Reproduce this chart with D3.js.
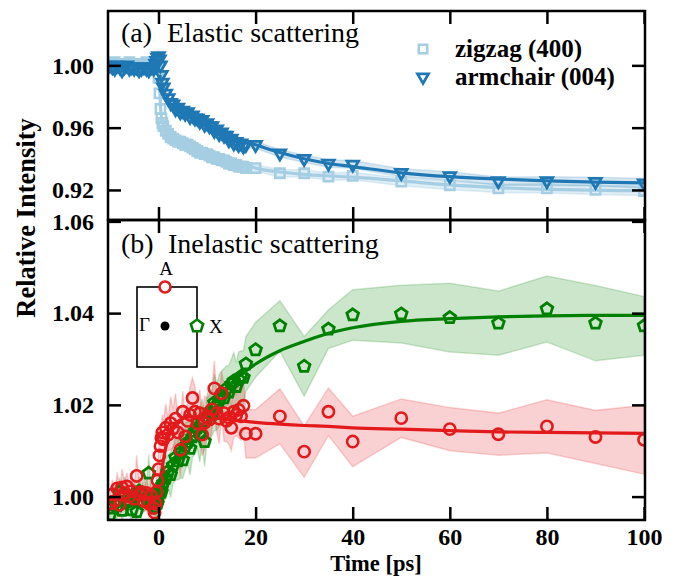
<!DOCTYPE html>
<html>
<head>
<meta charset="utf-8">
<script src="https://cdn.jsdelivr.net/npm/d3@7"></script>
<style>
  body { margin: 0; background: #fff; }
  svg { display: block; }
  text { font-family: "Liberation Serif", "Times New Roman", serif; fill: #000; }
</style>
</head>
<body>
<svg id="chart" width="680" height="576"></svg>
<script>
// ---------- time grids (ps) ----------
const timeDense = [
  -10, -9.5, -9, -8.5, -8, -7.5, -7, -6.5, -6, -5.5, -5, -4.5, -4, -3.5, -3, -2.5, -2, -1.5, -1,
  -0.8, -0.6, -0.4, -0.2, 0, 0.2, 0.4, 0.6, 0.8,
  1, 1.5, 2, 2.5, 3, 3.5, 4, 4.5, 5, 5.5, 6, 6.5, 7, 7.5, 8, 8.5, 9, 9.5, 10, 10.5,
  11, 11.5, 12, 12.5, 13, 13.5, 14, 14.5, 15, 15.5, 16, 16.5, 17, 17.5, 18
];
const timeSparse = [20, 25, 30, 35, 40, 50, 60, 70, 80, 90, 100];
const timeFit = [-10, 0, 0.5, 1, 1.5, 2, 3, 4, 5, 6, 8, 10, 12, 15, 18, 20, 25, 30, 35, 40, 50, 60, 70, 80, 90, 100];

// ---------- (a) elastic scattering ----------
const zigzagDense = [
  1.001, 1.000, 1.002, 1.000, 1.001, 0.999, 1.001, 1.000, 1.002, 1.000, 1.001, 1.000, 0.999, 1.001, 1.000, 1.002, 1.000, 1.001, 1.000,
  1.000, 1.001, 1.000, 0.998, 0.992, 0.982, 0.972, 0.966, 0.963,
  0.961, 0.958, 0.956, 0.954, 0.953, 0.952, 0.951, 0.951, 0.950, 0.949, 0.949, 0.948, 0.947, 0.946, 0.945, 0.944, 0.944, 0.943,
  0.943, 0.942, 0.941, 0.941, 0.940, 0.940, 0.939, 0.939, 0.938, 0.937, 0.937, 0.936, 0.936, 0.935, 0.935, 0.935, 0.934
];
const zigzagSparse = [0.934, 0.9307, 0.9307, 0.9285, 0.929, 0.9253, 0.923, 0.921, 0.921, 0.920, 0.9193];
const zigzagErrDense = [
  0.0012, 0.0014, 0.0011, 0.0013, 0.0012, 0.0015, 0.0012, 0.0013, 0.0011, 0.0014, 0.0012, 0.0013, 0.0012, 0.0014, 0.0011, 0.0013, 0.0012, 0.0014, 0.0013,
  0.0015, 0.0018, 0.0022, 0.0030, 0.0040, 0.0040, 0.0035, 0.0030, 0.0025,
  0.0022, 0.0020, 0.0021, 0.0019, 0.0020, 0.0022, 0.0021, 0.0020, 0.0019, 0.0021, 0.0020, 0.0022, 0.0021, 0.0020, 0.0019, 0.0021, 0.0022, 0.0020,
  0.0021, 0.0020, 0.0019, 0.0021, 0.0022, 0.0020, 0.0021, 0.0019, 0.0020, 0.0022, 0.0021, 0.0020, 0.0019, 0.0021, 0.0020, 0.0022, 0.0021
];
const zigzagErrSparse = [0.0022, 0.0024, 0.0023, 0.0025, 0.0024, 0.0026, 0.0028, 0.0027, 0.0029, 0.0030, 0.0030];

const armchairDense = [
  1.000, 0.999, 0.998, 1.000, 0.999, 0.997, 0.999, 1.000, 0.998, 0.999, 0.998, 0.999, 0.997, 0.998, 0.999, 0.998, 0.997, 0.999, 0.998,
  0.999, 1.001, 1.003, 1.005, 1.006, 1.004, 1.000, 0.994, 0.989,
  0.986, 0.982, 0.979, 0.976, 0.975, 0.972, 0.973, 0.970, 0.971, 0.969, 0.970, 0.967, 0.968, 0.966, 0.966, 0.964, 0.965, 0.962,
  0.963, 0.961, 0.961, 0.958, 0.959, 0.956, 0.957, 0.955, 0.955, 0.952, 0.953, 0.950, 0.951, 0.949, 0.950, 0.948, 0.949
];
const armchairSparse = [0.949, 0.9435, 0.940, 0.937, 0.9364, 0.931, 0.929, 0.9257, 0.9257, 0.9253, 0.9243];
const armchairErrDense = [
  0.0013, 0.0012, 0.0014, 0.0012, 0.0013, 0.0015, 0.0012, 0.0013, 0.0012, 0.0014, 0.0012, 0.0013, 0.0014, 0.0012, 0.0013, 0.0012, 0.0014, 0.0013, 0.0012,
  0.0015, 0.0018, 0.0020, 0.0025, 0.0030, 0.0032, 0.0030, 0.0028, 0.0026,
  0.0024, 0.0022, 0.0021, 0.0022, 0.0020, 0.0021, 0.0022, 0.0020, 0.0021, 0.0022, 0.0020, 0.0021, 0.0022, 0.0020, 0.0021, 0.0022, 0.0020, 0.0021,
  0.0022, 0.0020, 0.0021, 0.0022, 0.0020, 0.0021, 0.0022, 0.0020, 0.0021, 0.0022, 0.0020, 0.0021, 0.0022, 0.0020, 0.0021, 0.0022, 0.0021
];
const armchairErrSparse = [0.0022, 0.0023, 0.0024, 0.0024, 0.0025, 0.0026, 0.0027, 0.0026, 0.0028, 0.0028, 0.0030];

const zigzagFit = [1.000, 1.000, 0.970, 0.962, 0.959, 0.957, 0.954, 0.952, 0.950, 0.949, 0.946, 0.944, 0.942, 0.939, 0.936, 0.934, 0.9315, 0.930, 0.929, 0.9282, 0.9258, 0.9232, 0.9215, 0.9204, 0.9198, 0.9195];
const armchairFit = [1.000, 1.000, 0.990, 0.984, 0.980, 0.977, 0.973, 0.971, 0.969, 0.968, 0.965, 0.962, 0.959, 0.955, 0.951, 0.949, 0.944, 0.940, 0.937, 0.935, 0.931, 0.9285, 0.927, 0.9258, 0.925, 0.9246];

// ---------- (b) inelastic scattering ----------
const xPointDense = [
  0.9960, 0.9975, 0.9990, 0.9980, 1.0010, 0.9970, 1.0005, 0.9989, 0.9992, 0.9971, 1.0000, 0.9967, 1.0012, 0.9990, 1.0005, 0.9995, 1.0051, 0.9985, 1.0000,
  0.9985, 0.9978, 0.9992, 0.9985, 1.0000, 1.0008, 1.0015, 1.0010, 1.0025,
  1.0030, 1.0040, 1.0055, 1.0048, 1.0068, 1.0085, 1.0078, 1.0095, 1.0080, 1.0110, 1.0118, 1.0105, 1.0130, 1.0142, 1.0150, 1.0135, 1.0165, 1.0120, 1.0172, 1.0185,
  1.0178, 1.0205, 1.0195, 1.0210, 1.0222, 1.0215, 1.0235, 1.0228, 1.0245, 1.0252, 1.0240, 1.0255, 1.0262, 1.0260, 1.0289
];
const xPointSparse = [1.0320, 1.0372, 1.0284, 1.0365, 1.0396, 1.0398, 1.0390, 1.0378, 1.0409, 1.0378, 1.0372];
const xPointErrDense = [
  0.0030, 0.0024, 0.0036, 0.0026, 0.0032, 0.0025, 0.0038, 0.0028, 0.0030, 0.0024, 0.0034, 0.0026, 0.0032, 0.0028, 0.0036, 0.0025, 0.0040, 0.0027, 0.0030,
  0.0032, 0.0036, 0.0030, 0.0038, 0.0034, 0.0036, 0.0040, 0.0035, 0.0038,
  0.0038, 0.0045, 0.0036, 0.0050, 0.0040, 0.0048, 0.0042, 0.0055, 0.0040, 0.0052, 0.0045, 0.0058, 0.0044, 0.0050, 0.0046, 0.0060, 0.0048, 0.0055, 0.0050, 0.0058,
  0.0046, 0.0062, 0.0050, 0.0056, 0.0052, 0.0064, 0.0050, 0.0058, 0.0055, 0.0062, 0.0052, 0.0060, 0.0056, 0.0058, 0.0060
];
const xPointErrSparse = [0.0060, 0.0055, 0.0065, 0.0042, 0.0055, 0.0063, 0.0075, 0.0070, 0.0072, 0.0082, 0.0064];

const aPointDense = [
  0.9985, 1.0005, 0.9990, 1.0018, 0.9982, 1.0020, 1.0008, 1.0022, 1.0000, 1.0012, 0.9995, 1.0045, 1.0005, 1.0010, 0.9990, 1.0008, 0.9985, 1.0002, 0.9975,
  0.9965, 0.9985, 1.0010, 1.0035, 1.0060, 1.0090, 1.0110, 1.0128, 1.0140,
  1.0125, 1.0150, 1.0135, 1.0160, 1.0148, 1.0170, 1.0140, 1.0102, 1.0185, 1.0131, 1.0165, 1.0178, 1.0215, 1.0185, 1.0160, 1.0182, 1.0135, 1.0161, 1.0175, 1.0168,
  1.0190, 1.0236, 1.0182, 1.0170, 1.0225, 1.0182, 1.0165, 1.0172, 1.0150, 1.0185, 1.0178, 1.0189, 1.0175, 1.0198, 1.0137
];
const aPointSparse = [1.0137, 1.0175, 1.0098, 1.0185, 1.0120, 1.0171, 1.0147, 1.0136, 1.0153, 1.0130, 1.0124];
const aPointErrDense = [
  0.0025, 0.0032, 0.0022, 0.0035, 0.0028, 0.0040, 0.0024, 0.0030, 0.0026, 0.0034, 0.0022, 0.0045, 0.0027, 0.0031, 0.0024, 0.0036, 0.0028, 0.0033, 0.0030,
  0.0030, 0.0035, 0.0040, 0.0038, 0.0042, 0.0040, 0.0036, 0.0034, 0.0038,
  0.0040, 0.0052, 0.0035, 0.0058, 0.0042, 0.0055, 0.0038, 0.0060, 0.0045, 0.0050, 0.0040, 0.0062, 0.0044, 0.0056, 0.0038, 0.0052, 0.0046, 0.0058, 0.0040, 0.0054,
  0.0044, 0.0060, 0.0042, 0.0055, 0.0048, 0.0062, 0.0045, 0.0058, 0.0050, 0.0056, 0.0046, 0.0060, 0.0052, 0.0055, 0.0053
];
const aPointErrSparse = [0.0053, 0.0060, 0.0056, 0.0052, 0.0055, 0.0042, 0.0047, 0.0046, 0.0058, 0.0058, 0.0075];

const xPointFit = [1.000, 1.000, 1.0013, 1.0025, 1.0037, 1.0049, 1.0071, 1.0091, 1.0111, 1.0129, 1.0162, 1.0190, 1.0216, 1.0248, 1.0274, 1.0289, 1.0318, 1.0338, 1.0356, 1.0368, 1.0382, 1.0388, 1.0392, 1.0394, 1.0395, 1.0395];
const aPointFit = [1.000, 1.000, 1.0045, 1.0080, 1.0107, 1.0127, 1.0152, 1.0164, 1.0170, 1.0173, 1.0174, 1.0173, 1.0171, 1.0167, 1.0164, 1.0162, 1.0158, 1.0155, 1.0153, 1.0150, 1.0147, 1.0144, 1.0141, 1.0140, 1.0139, 1.0138];

// ---------- ticks and labels ----------
const xTicks = [0, 20, 40, 60, 80, 100];
const yTicksA = [0.92, 0.96, 1.00];
const yTicksB = [1.00, 1.02, 1.04, 1.06];
const legendLabels = ["zigzag (400)", "armchair (004)"];

// ---------- colours ----------
const cZig = "#a6cee3", cArm = "#1f78b4", cGreen = "#008000", cRed = "#e31a1c";

// ---------- layout ----------
const svg = d3.select("#chart");
const L = 108, R = 645, TOP = 11, MID = 220, BOT = 520;

const x = d3.scaleLinear().domain([-10.4, 100.2]).range([L, R]);
const yA = d3.scaleLinear().domain([0.9007, 1.0349]).range([MID, TOP]);
const yB = d3.scaleLinear().domain([0.9949, 1.0603]).range([BOT, MID]);

const defs = svg.append("defs");
defs.append("clipPath").attr("id", "clipA").append("rect")
  .attr("x", L).attr("y", TOP).attr("width", R - L).attr("height", MID - TOP);
defs.append("clipPath").attr("id", "clipB").append("rect")
  .attr("x", L).attr("y", MID).attr("width", R - L).attr("height", BOT - MID);

function rows(vDense, vSparse, eDense, eSparse) {
  const t = timeDense.concat(timeSparse);
  const v = vDense.concat(vSparse);
  const e = eDense.concat(eSparse);
  return t.map((tt, i) => ({ t: tt, v: v[i], e: e[i] }));
}
function fitRows(vals) { return timeFit.map((t, i) => ({ t, v: vals[i] })); }

// pentagon marker for d3.symbol
const symbolPentagon = {
  draw(ctx, size) {
    const r = Math.sqrt(size / (2.5 * Math.sin(2 * Math.PI / 5)));
    for (let i = 0; i < 5; i++) {
      const a = -Math.PI / 2 + i * 2 * Math.PI / 5;
      const px = r * Math.cos(a), py = r * Math.sin(a);
      if (i === 0) ctx.moveTo(px, py); else ctx.lineTo(px, py);
    }
    ctx.closePath();
  }
};

function band(g, data, y, color, op) {
  g.append("path").datum(data)
    .attr("d", d3.area().x(d => x(d.t)).y0(d => y(d.v - d.e)).y1(d => y(d.v + d.e)))
    .attr("fill", color).attr("fill-opacity", op)
    .attr("stroke", color).attr("stroke-opacity", op * 0.9).attr("stroke-width", 1.5);
}
function fitLine(g, data, y, color) {
  g.append("path").datum(data)
    .attr("d", d3.line().x(d => x(d.t)).y(d => y(d.v)).curve(d3.curveMonotoneX))
    .attr("fill", "none").attr("stroke", color).attr("stroke-width", 3.2);
}
function markers(g, data, y, type, size, color, rot, sw) {
  g.selectAll(null).data(data).enter().append("path")
    .attr("d", d3.symbol().type(type).size(size))
    .attr("transform", d => `translate(${x(d.t)},${y(d.v)})` + (rot ? ` rotate(${rot})` : ""))
    .attr("fill", "none").attr("stroke", color).attr("stroke-width", sw);
}

// ---------- panel (a) ----------
const zig = rows(zigzagDense, zigzagSparse, zigzagErrDense, zigzagErrSparse);
const arm = rows(armchairDense, armchairSparse, armchairErrDense, armchairErrSparse);
const gA = svg.append("g").attr("clip-path", "url(#clipA)");
band(gA, zig, yA, cZig, 0.35);
band(gA, arm, yA, cArm, 0.18);
fitLine(gA, fitRows(zigzagFit), yA, cZig);
fitLine(gA, fitRows(armchairFit), yA, cArm);
markers(gA, zig, yA, d3.symbolSquare, 85, cZig, 0, 2.6);
markers(gA, arm, yA, d3.symbolTriangle, 58, cArm, 180, 2.8);

// ---------- panel (b) ----------
const xs = rows(xPointDense, xPointSparse, xPointErrDense, xPointErrSparse);
const as = rows(aPointDense, aPointSparse, aPointErrDense, aPointErrSparse);
const gB = svg.append("g").attr("clip-path", "url(#clipB)");
band(gB, xs, yB, cGreen, 0.2);
band(gB, as, yB, cRed, 0.2);
fitLine(gB, fitRows(xPointFit), yB, cGreen);
fitLine(gB, fitRows(aPointFit), yB, cRed);
markers(gB, xs, yB, symbolPentagon, 90, cGreen, 0, 2.8);
markers(gB, as, yB, d3.symbolCircle, 100, cRed, 0, 2.6);

// ---------- axes ----------
function styleAxis(g) {
  g.select(".domain").remove();
  g.selectAll(".tick line").attr("stroke", "#000").attr("stroke-width", 2.5);
  g.selectAll(".tick text").attr("font-family", "Liberation Serif, Times New Roman, serif")
    .attr("font-weight", "bold").attr("font-size", 24).attr("fill", "#000");
}
function panelAxes(y, top, bottom, yTicks, labelX) {
  svg.append("g").attr("transform", `translate(0,${bottom})`)
    .call(d3.axisBottom(x).tickValues(xTicks).tickSize(-13).tickPadding(8)
      .tickFormat(labelX ? d3.format("d") : () => ""))
    .call(styleAxis);
  svg.append("g").attr("transform", `translate(0,${top})`)
    .call(d3.axisTop(x).tickValues(xTicks).tickSize(-13).tickFormat(() => ""))
    .call(styleAxis);
  svg.append("g").attr("transform", `translate(${L},0)`)
    .call(d3.axisLeft(y).tickValues(yTicks).tickSize(-13).tickPadding(14).tickFormat(d3.format(".2f")))
    .call(styleAxis);
  svg.append("g").attr("transform", `translate(${R},0)`)
    .call(d3.axisRight(y).tickValues(yTicks).tickSize(-13).tickFormat(() => ""))
    .call(styleAxis);
  svg.append("rect").attr("x", L).attr("y", top).attr("width", R - L).attr("height", bottom - top)
    .attr("fill", "none").attr("stroke", "#000").attr("stroke-width", 2.5);
}
panelAxes(yA, TOP, MID, yTicksA, false);
panelAxes(yB, MID, BOT, yTicksB, true);

// axis titles
svg.append("text").attr("x", 376).attr("y", 570.5).attr("text-anchor", "middle")
  .attr("font-weight", "bold").attr("font-size", 22.5).text("Time [ps]");
svg.append("text").attr("transform", "translate(35,218) rotate(-90)").attr("text-anchor", "middle")
  .attr("font-weight", "bold").attr("font-size", 26.5).text("Relative Intensity");

// panel titles
function panelTitle(tag, title, yBase, xTitle) {
  svg.append("text").attr("x", 121).attr("y", yBase).attr("font-size", 28).text(tag);
  svg.append("text").attr("x", xTitle).attr("y", yBase).attr("font-size", 28).text(title);
}
panelTitle("(a)", "Elastic scattering", 42, 167);
panelTitle("(b)", "Inelastic scattering", 253, 168);

// legend
const lg = svg.append("g");
lg.append("path").attr("d", d3.symbol().type(d3.symbolSquare).size(70)())
  .attr("transform", "translate(423,49)").attr("fill", "none").attr("stroke", cZig).attr("stroke-width", 2.6);
lg.append("path").attr("d", d3.symbol().type(d3.symbolTriangle).size(52)())
  .attr("transform", "translate(423,77) rotate(180)").attr("fill", "none").attr("stroke", cArm).attr("stroke-width", 2.8);
lg.append("text").attr("x", 455).attr("y", 56.5).attr("font-weight", "bold").attr("font-size", 25).text(legendLabels[0]);
lg.append("text").attr("x", 455).attr("y", 84.5).attr("font-weight", "bold").attr("font-size", 25).text(legendLabels[1]);

// Brillouin-zone inset
const ins = svg.append("g");
ins.append("rect").attr("x", 137).attr("y", 287).attr("width", 60).attr("height", 80)
  .attr("fill", "none").attr("stroke", "#000").attr("stroke-width", 1.6);
ins.append("circle").attr("cx", 165).attr("cy", 287).attr("r", 5.5)
  .attr("fill", "#fff").attr("stroke", cRed).attr("stroke-width", 2.6);
ins.append("circle").attr("cx", 165).attr("cy", 326).attr("r", 4.5).attr("fill", "#000");
ins.append("path").attr("d", d3.symbol().type(symbolPentagon).size(100)())
  .attr("transform", "translate(197,326)").attr("fill", "#fff").attr("stroke", cGreen).attr("stroke-width", 2.6);
ins.append("text").attr("x", 166).attr("y", 275).attr("text-anchor", "middle").attr("font-size", 19).text("A");
ins.append("text").attr("x", 139).attr("y", 331).attr("font-size", 19).text("Γ");
ins.append("text").attr("x", 209).attr("y", 333).attr("font-size", 19).text("X");
</script>
</body>
</html>
